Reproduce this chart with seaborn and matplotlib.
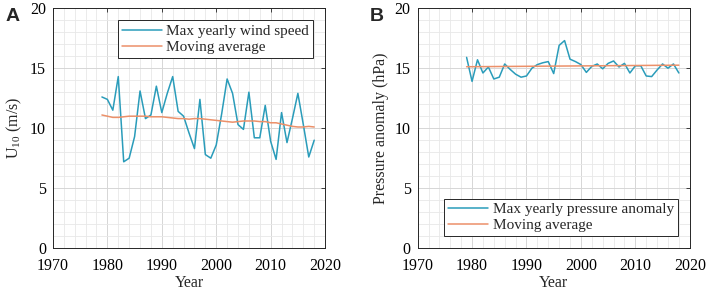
import matplotlib
matplotlib.use("Agg")
import matplotlib.pyplot as plt
from matplotlib.ticker import MultipleLocator
import numpy as np
import pandas as pd
import seaborn as sns

# %% data
years = list(range(1979, 2019))

wind_max = [12.6, 12.4, 11.5, 14.3, 7.2, 7.5, 9.3, 13.1, 10.8, 11.1,
            13.5, 11.3, 12.9, 14.3, 11.4, 11.0, 9.6, 8.3, 12.4, 7.8,
            7.5, 8.6, 11.2, 14.1, 12.9, 10.3, 9.9, 13.0, 9.2, 9.2,
            11.9, 8.9, 7.4, 11.3, 8.8, 10.8, 12.9, 10.3, 7.6, 9.0]
wind_avg = [11.1, 11.0, 10.9, 10.9, 10.95, 11.0, 11.0, 11.0, 11.0, 10.95,
            10.95, 10.95, 10.9, 10.85, 10.8, 10.8, 10.75, 10.8, 10.8, 10.75,
            10.7, 10.65, 10.6, 10.55, 10.5, 10.55, 10.6, 10.6, 10.6, 10.55,
            10.55, 10.45, 10.45, 10.35, 10.25, 10.15, 10.1, 10.1, 10.15, 10.1]

pres_max = [15.9, 13.9, 15.7, 14.6, 15.1, 14.1, 14.25, 15.35, 14.9, 14.5,
            14.25, 14.35, 15.0, 15.3, 15.45, 15.55, 14.55, 16.9, 17.3, 15.75,
            15.55, 15.3, 14.65, 15.15, 15.35, 14.95, 15.4, 15.6, 15.1, 15.4,
            14.6, 15.2, 15.2, 14.35, 14.3, 14.85, 15.35, 15.0, 15.35, 14.6]
pres_avg = list(np.round(np.linspace(15.12, 15.25, len(years)), 3))

panels = [
    ("A", wind_max, wind_avg, "Max yearly wind speed", "U$_{10}$ (m/s)", "upper right"),
    ("B", pres_max, pres_avg, "Max yearly pressure anomaly", "Pressure anomaly (hPa)", "lower right"),
]

# %% style
sns.set_theme(style="whitegrid")
plt.rcParams['font.family'] = ['Liberation Serif', 'DejaVu Serif']
plt.rcParams['mathtext.fontset'] = 'custom'
plt.rcParams['mathtext.rm'] = 'Liberation Serif'
plt.rcParams['mathtext.it'] = 'Liberation Serif:italic'

blue = "#2a9cba"
orange = "#ec9069"

fig, axes = plt.subplots(1, 2, figsize=(7.06, 2.92), dpi=100)
fig.subplots_adjust(left=0.075, right=0.977, top=0.972, bottom=0.15, wspace=0.34)

for ax, (tag, vals, avg, lab, ylab, loc) in zip(axes, panels):
    df = pd.DataFrame({"Year": years, "max": vals, "avg": avg})
    sns.lineplot(data=df, x="Year", y="max", ax=ax, color=blue, lw=1.1, label=lab)
    sns.lineplot(data=df, x="Year", y="avg", ax=ax, color=orange, lw=1.1, label="Moving average")

    ax.set_xlim(1970, 2020)
    ax.set_ylim(0, 20)
    ax.xaxis.set_major_locator(MultipleLocator(10))
    ax.xaxis.set_minor_locator(MultipleLocator(2))
    ax.yaxis.set_major_locator(MultipleLocator(5))
    ax.yaxis.set_minor_locator(MultipleLocator(1))
    ax.grid(which="major", color="#d6d6d6", lw=0.7)
    ax.grid(which="minor", color="#e8e8e8", lw=0.6)
    ax.tick_params(which="both", direction="in", top=True, right=True,
                   labelsize=11.5, colors="#262626", labelcolor="black")
    ax.tick_params(axis="x", pad=7)
    ax.tick_params(axis="y", pad=5)
    ax.tick_params(which="major", length=3, width=0.6)
    ax.tick_params(which="minor", length=0)
    for s in ax.spines.values():
        s.set_color("#262626")
        s.set_linewidth(0.7)
    ax.set_xlabel("Year", fontsize=11.5, labelpad=1)
    ax.set_ylabel(ylab, fontsize=11.5, labelpad=4)

    leg = ax.legend(loc=loc, fontsize=11, frameon=True, fancybox=False,
                    handlelength=2.6, handletextpad=0.3, borderpad=0.25,
                    labelspacing=0.15, borderaxespad=0.8)
    leg.get_frame().set_edgecolor("#262626")
    leg.get_frame().set_linewidth(0.7)
    leg.get_frame().set_alpha(1)

    ax.text(-0.175, 1.0, tag, transform=ax.transAxes, fontsize=14, fontweight="bold",
            family="Liberation Sans", ha="left", va="top")

fig.savefig("out.png", dpi=100)
